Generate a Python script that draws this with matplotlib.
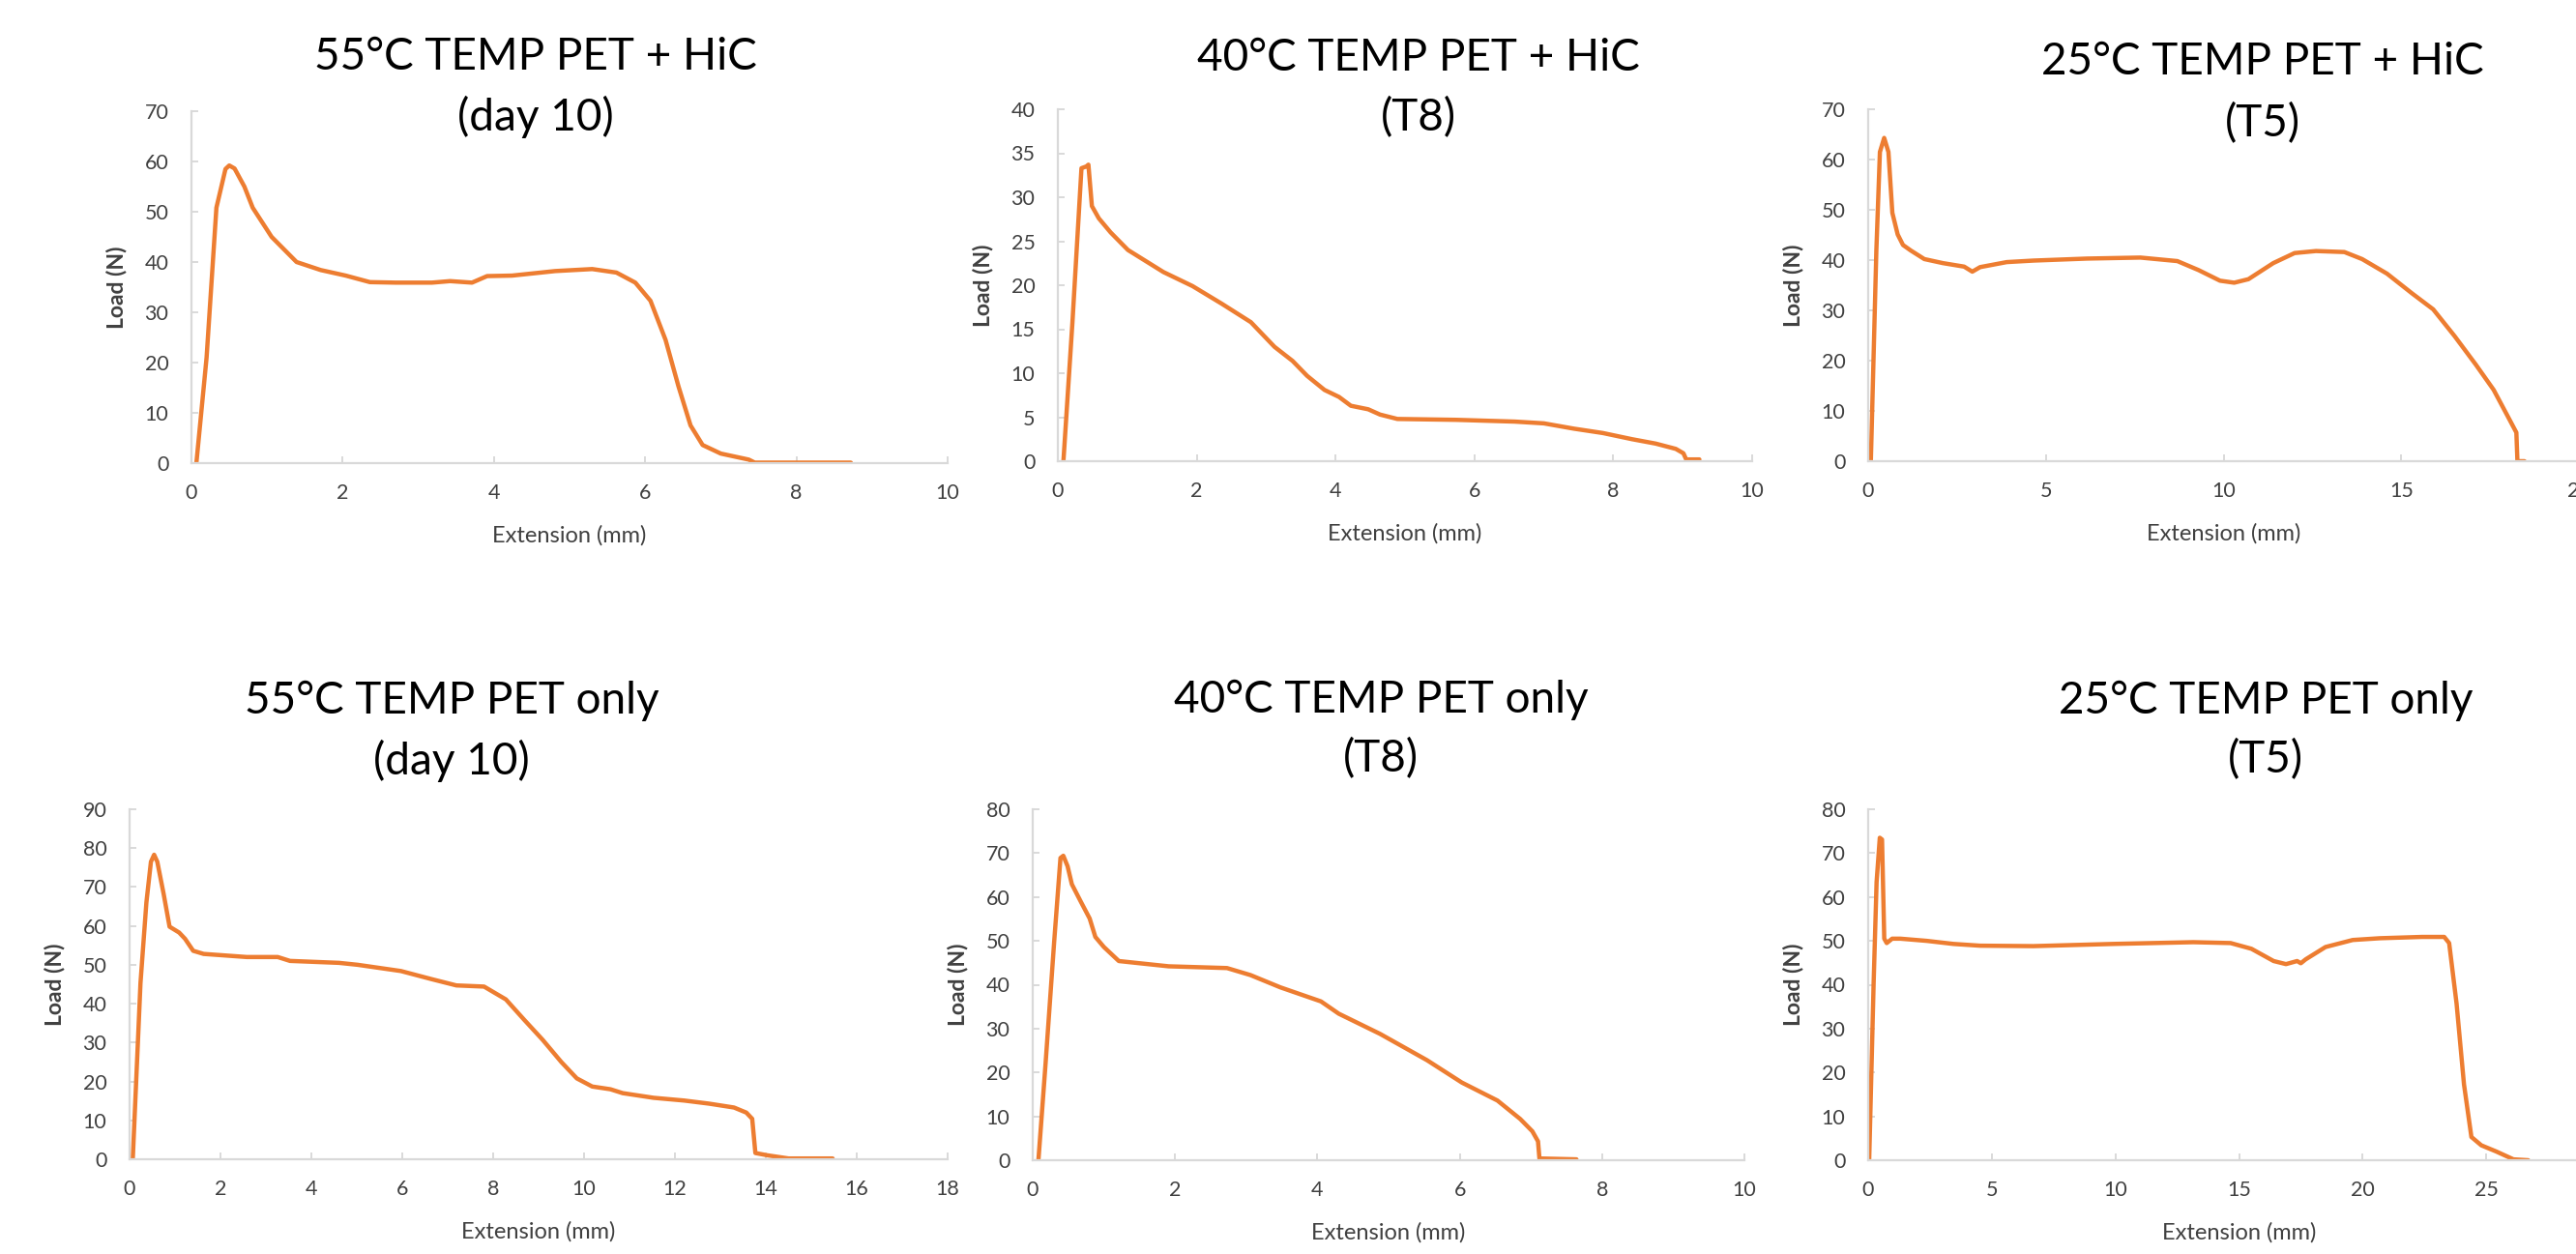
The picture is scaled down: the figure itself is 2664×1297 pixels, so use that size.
import matplotlib
matplotlib.use("Agg")
import matplotlib.pyplot as plt

plt.rcParams["font.family"] = ["Lato", "DejaVu Sans"]

# --------------- data ---------------
# 55 C, PET + HiC (day 10)
ext_55_hic = [0.065, 0.2, 0.33, 0.45, 0.5, 0.57, 0.7, 0.81, 1.06, 1.39, 1.71, 2.04, 2.36, 2.7,
              3.18, 3.42, 3.71, 3.91, 4.24, 4.81, 5.3, 5.62, 5.87, 6.07, 6.27, 6.44, 6.6, 6.76,
              7.0, 7.37, 7.45, 8.72]
load_55_hic = [0, 21, 50.8, 58.5, 59.2, 58.6, 55, 50.8, 45, 40, 38.4, 37.3, 36, 35.9,
               35.9, 36.2, 35.9, 37.2, 37.3, 38.2, 38.6, 37.9, 35.9, 32.3, 24.5, 15.3, 7.5, 3.6,
               1.9, 0.7, 0.1, 0.1]

# 40 C, PET + HiC (T8)
ext_40_hic = [0.08, 0.21, 0.34, 0.41, 0.44, 0.49, 0.59, 0.76, 1.01, 1.52, 1.94, 2.36, 2.78,
              3.12, 3.38, 3.59, 3.84, 4.05, 4.22, 4.47, 4.64, 4.89, 5.74, 6.58, 7.0, 7.43,
              7.85, 8.27, 8.61, 8.9, 9.01, 9.05, 9.24]
load_40_hic = [0, 15.8, 33.3, 33.5, 33.7, 29, 27.6, 26, 24, 21.5, 19.9, 17.9, 15.8,
               13, 11.4, 9.7, 8.1, 7.3, 6.3, 5.9, 5.3, 4.8, 4.7, 4.5, 4.3, 3.7,
               3.2, 2.5, 2.0, 1.4, 0.9, 0.2, 0.2]

# 25 C, PET + HiC (T5)
ext_25_hic = [0.075, 0.23, 0.33, 0.45, 0.57, 0.68, 0.83, 0.98, 1.2, 1.58, 2.1, 2.7, 2.93,
              3.15, 3.9, 4.65, 6.16, 7.66, 8.7, 9.3, 9.9, 10.3, 10.7, 11.4, 12.0, 12.6,
              13.4, 13.9, 14.6, 15.3, 15.9, 16.5, 17.1, 17.6, 18.0, 18.24, 18.27, 18.47]
load_25_hic = [0, 41.9, 61.5, 64.3, 61.5, 49.4, 45.1, 43, 41.9, 40.2, 39.4, 38.7, 37.7,
               38.6, 39.6, 39.9, 40.3, 40.5, 39.8, 38, 35.9, 35.5, 36.2, 39.4, 41.4, 41.8,
               41.6, 40.2, 37.3, 33.4, 30.2, 24.9, 19.2, 14.2, 8.9, 5.7, 0, 0]

# 55 C, PET only (day 10)
ext_55_pet = [0.07, 0.24, 0.37, 0.47, 0.54, 0.61, 0.75, 0.88, 1.09, 1.22, 1.4, 1.63, 2.58,
              3.26, 3.53, 4.61, 5.02, 5.97, 6.65, 7.19, 7.8, 8.28, 8.68, 9.09, 9.5, 9.84,
              10.18, 10.58, 10.85, 11.53, 12.2, 12.75, 13.3, 13.57, 13.7, 13.77, 14.04,
              14.5, 15.47]
load_55_pet = [0, 45.3, 66, 76.5, 78.3, 76.5, 68.2, 59.8, 58.3, 56.7, 53.6, 52.8, 52,
               52, 51, 50.5, 50, 48.4, 46.3, 44.7, 44.4, 41.1, 35.9, 30.7, 25, 20.8,
               18.7, 18, 17, 15.8, 15.1, 14.3, 13.3, 12, 10.4, 1.6, 1,
               0.2, 0.2]

# 40 C, PET only (T8)
ext_40_pet = [0.08, 0.18, 0.3, 0.39, 0.43, 0.49, 0.55, 0.68, 0.8, 0.88, 1.0, 1.21, 1.5,
              1.91, 2.32, 2.73, 3.06, 3.48, 4.05, 4.3, 4.88, 5.54, 6.03, 6.53, 6.85, 7.02,
              7.1, 7.12, 7.64]
load_40_pet = [0, 21.9, 49.5, 68.9, 69.4, 67, 62.9, 58.8, 55.1, 50.9, 48.6, 45.4, 44.9,
               44.2, 44, 43.8, 42.2, 39.4, 36.2, 33.4, 28.8, 22.8, 17.7, 13.6, 9.4, 6.6,
               4.3, 0.4, 0.2]

# 25 C, PET only (T5)
ext_25_pet = [0.04, 0.22, 0.34, 0.47, 0.56, 0.65, 0.75, 0.97, 1.3, 2.37, 3.45, 4.53, 6.68,
              9.9, 13.15, 14.66, 15.5, 16.4, 16.9, 17.35, 17.5, 17.7, 18.5, 19.6, 20.7,
              22.4, 23.3, 23.5, 23.8, 24.1, 24.4, 24.8, 25.4, 26.1, 26.7]
load_25_pet = [0, 40.3, 63.4, 73.5, 73.1, 50.5, 49.5, 50.5, 50.5, 50, 49.3, 48.9, 48.8,
               49.3, 49.7, 49.5, 48.2, 45.4, 44.7, 45.4, 44.9, 45.8, 48.6, 50.2, 50.6,
               50.9, 50.9, 49.5, 35.7, 17.3, 5.3, 3.4, 2, 0.2, 0]

titles = [
    ("55°C TEMP PET + HiC", "(day 10)"),
    ("40°C TEMP PET + HiC", "(T8)"),
    ("25°C TEMP PET + HiC", "(T5)"),
    ("55°C TEMP PET only", "(day 10)"),
    ("40°C TEMP PET only", "(T8)"),
    ("25°C TEMP PET only", "(T5)"),
]
series = [
    (ext_55_hic, load_55_hic), (ext_40_hic, load_40_hic), (ext_25_hic, load_25_hic),
    (ext_55_pet, load_55_pet), (ext_40_pet, load_40_pet), (ext_25_pet, load_25_pet),
]
x_max = [10, 10, 20, 18, 10, 30]
x_step = [2, 2, 5, 2, 2, 5]
y_max = [70, 40, 70, 90, 80, 80]
y_step = [10, 5, 10, 10, 10, 10]

# --------------- layout (pixels in a 2664 x 1297 canvas) ---------------
W, H = 2664, 1297
# axes box: left, right, top, bottom (pixels)
boxes = [
    (198, 980, 115, 479), (1094, 1812, 113, 477), (1932, 2667, 113, 477),
    (134, 980, 837, 1199), (1068, 1804, 837, 1200), (1932, 2699, 837, 1200),
]
# title centre x, baseline of line 1, baseline of line 2
title_pos = [
    (554, 72, 135), (1467, 73, 135), (2340, 77, 141),
    (467, 738, 801), (1428, 737, 798), (2343, 738, 799),
]

ORANGE = "#ED7D31"
GRID = "#D9D9D9"
TXT = "#404040"


def draw_panel(fig, box, xs, ys, xmax, xstep, ymax, ystep):
    l, r, t, b = box
    ax = fig.add_axes([l / W, 1 - b / H, (r - l) / W, (b - t) / H])
    ax.plot(xs, ys, color=ORANGE, lw=3.2, solid_joinstyle="round", solid_capstyle="round")
    ax.set_xlim(0, xmax)
    ax.set_ylim(0, ymax)
    # the source image is cropped on the right: keep only ticks at (or just past) the edge
    xt = [v for v in range(0, xmax + 1, xstep) if l + (r - l) * v / xmax < W + 20]
    ax.set_xticks(xt)
    ax.set_yticks(range(0, ymax + 1, ystep))
    for side in ("top", "right"):
        ax.spines[side].set_visible(False)
    for side in ("left", "bottom"):
        ax.spines[side].set_color(GRID)
        ax.spines[side].set_linewidth(1.6)
    ax.tick_params(direction="in", length=5, width=1.4, color=GRID,
                   labelsize=15.5, labelcolor=TXT)
    ax.tick_params(axis="y", pad=17)
    ax.tick_params(axis="x", pad=15)
    ax.set_xlabel("Extension (mm)", fontsize=17, color=TXT)
    ax.set_ylabel("Load (N)", fontsize=16.5, color=TXT, fontweight="bold")
    ax.xaxis.set_label_coords(0.5, -64 / (b - t))
    ax.yaxis.set_label_coords(-67 / (r - l), 0.5)
    ax.patch.set_alpha(0)
    return ax


fig = plt.figure(figsize=(W / 100, H / 100), dpi=100)

for i in range(6):
    xs, ys = series[i]
    draw_panel(fig, boxes[i], xs, ys, x_max[i], x_step[i], y_max[i], y_step[i])
    cx, y1, y2 = title_pos[i]
    fig.text(cx / W, 1 - y1 / H, titles[i][0], fontsize=33, ha="center", va="baseline")
    fig.text(cx / W, 1 - y2 / H, titles[i][1], fontsize=33, ha="center", va="baseline")

fig.savefig("out.png", dpi=100)
print("[+] Saved out.png")
